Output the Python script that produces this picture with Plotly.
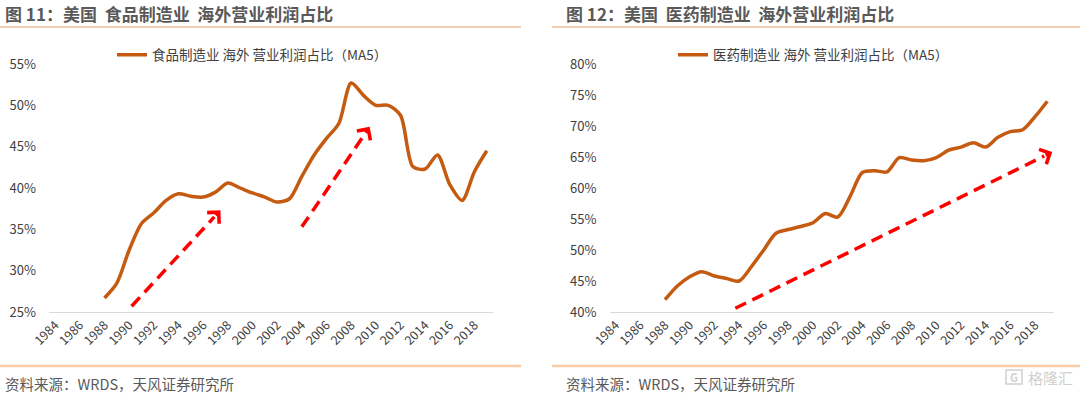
import math
import plotly.graph_objects as go

# ---------------- data ----------------
years = list(range(1988, 2020))
food_share = [26.7, 28.5, 32.5, 35.7, 37.0, 38.5, 39.3, 39.0, 38.9, 39.5,
              40.6, 40.0, 39.4, 38.9, 38.3, 38.7, 41.4, 44.0, 46.0, 47.8,
              52.7, 51.2, 50.0, 50.0, 48.8, 42.6, 42.3, 44.0, 40.4, 38.5,
              42.0, 44.5]
pharma_share = [42.0, 44.2, 45.7, 46.5, 45.8, 45.4, 45.0, 47.3, 50.0, 52.7,
                53.3, 53.8, 54.4, 55.9, 55.3, 58.6, 62.5, 62.8, 62.6, 64.9,
                64.5, 64.4, 64.9, 66.1, 66.6, 67.3, 66.6, 68.2, 69.1, 69.4,
                71.5, 74.0]
tick_years = list(range(1984, 2019, 2))
left_ticks = [25, 30, 35, 40, 45, 50, 55]
right_ticks = [40, 45, 50, 55, 60, 65, 70, 75, 80]

NB = "\u00a0\u00a0"
title_left = "图 11：美国" + NB + "食品制造业" + NB + "海外营业利润占比"
title_right = "图 12：美国" + NB + "医药制造业" + NB + "海外营业利润占比"
name_left = "食品制造业 海外 营业利润占比（MA5）"
name_right = "医药制造业 海外 营业利润占比（MA5）"
source_text = "资料来源：WRDS，天风证券研究所"

# trend arrows (tail -> tip) in data units (year, percent)
arrows_left = [((1990.2, 25.7), (1997.4, 37.3)),
               ((2004.0, 35.3), (2009.5, 47.4))]
arrows_right = [((1993.7, 40.6), (2019.4, 65.8))]

# ---------------- layout geometry ----------------
W, H = 1080, 396
FONT = "Noto Sans CJK SC"
LINE_COLOR = "#C55A11"
TXT = "#404040"
y_dom = [(H - 312) / H, (H - 64) / H]
x_dom_l = [49 / W, 493 / W]
x_dom_r = [609.5 / W, 1053.5 / W]
x_range = [1983.5, 2019.5]

fig = go.Figure()
fig.add_trace(go.Scatter(x=years, y=food_share, mode="lines", name=name_left,
                         line=dict(color=LINE_COLOR, width=3.5, shape="spline", smoothing=0.8),
                         xaxis="x", yaxis="y", legend="legend", hoverinfo="skip"))
fig.add_trace(go.Scatter(x=years, y=pharma_share, mode="lines", name=name_right,
                         line=dict(color=LINE_COLOR, width=3.5, shape="spline", smoothing=0.8),
                         xaxis="x2", yaxis="y2", legend="legend2", hoverinfo="skip"))

xa = dict(range=x_range, tickmode="array", tickvals=tick_years,
          ticktext=[str(t) for t in tick_years], tickangle=-45, automargin=False,
          showgrid=False, zeroline=False, showline=True, linecolor="#D9D9D9",
          linewidth=1, ticks="", tickfont=dict(family=FONT, size=12.5, color=TXT))
ya = dict(showgrid=False, zeroline=False, showline=False, ticks="", automargin=False,
          ticklabelstandoff=12, tickfont=dict(family=FONT, size=13, color=TXT))
fig.update_layout(
    xaxis=dict(domain=x_dom_l, anchor="y", **xa),
    xaxis2=dict(domain=x_dom_r, anchor="y2", **xa),
    yaxis=dict(domain=y_dom, anchor="x", range=[25, 55], tickmode="array",
               tickvals=left_ticks, ticktext=[f"{v}%" for v in left_ticks], **ya),
    yaxis2=dict(domain=y_dom, anchor="x2", range=[40, 80], tickmode="array",
                tickvals=right_ticks, ticktext=[f"{v}%" for v in right_ticks], **ya),
)

# arrows
def px_scale(xdom, yr):
    sx = (xdom[1] - xdom[0]) * W / (x_range[1] - x_range[0])
    sy = (y_dom[1] - y_dom[0]) * H / (yr[1] - yr[0])
    return sx, sy

shapes = []
annotations = []
for arrs, xr, yr_name, yr, xdom in [(arrows_left, "x", "y", [25, 55], x_dom_l),
                                     (arrows_right, "x2", "y2", [40, 80], x_dom_r)]:
    sx, sy = px_scale(xdom, yr)
    for (x0, y0), (x1, y1) in arrs:
        dxp, dyp = (x1 - x0) * sx, (y1 - y0) * sy
        L = math.hypot(dxp, dyp)
        f = 9.0 / L
        bx, by = x1 - (x1 - x0) * f, y1 - (y1 - y0) * f
        shapes.append(dict(type="line", xref=xr, yref=yr_name, x0=x0, y0=y0, x1=bx, y1=by,
                           line=dict(color="#FF0000", width=3.5, dash="12px,7px")))
        annotations.append(dict(x=x1, y=y1, xref=xr, yref=yr_name, ax=bx, ay=by,
                                axref=xr, ayref=yr_name, text="", showarrow=True,
                                arrowhead=4, arrowsize=0.9, arrowwidth=3.5,
                                arrowcolor="#FF0000"))

# decorative rules
shapes += [
    dict(type="line", xref="paper", yref="paper", x0=0, x1=521 / W, y0=1 - 27 / H, y1=1 - 27 / H,
         line=dict(color="#E39A62", width=1)),
    dict(type="line", xref="paper", yref="paper", x0=552 / W, x1=1, y0=1 - 27 / H, y1=1 - 27 / H,
         line=dict(color="#E39A62", width=1)),
    dict(type="line", xref="paper", yref="paper", x0=0, x1=521 / W, y0=1 - 366 / H, y1=1 - 366 / H,
         line=dict(color="#F8CBA4", width=2.5)),
    dict(type="line", xref="paper", yref="paper", x0=552 / W, x1=1, y0=1 - 366 / H, y1=1 - 366 / H,
         line=dict(color="#F8CBA4", width=2.5)),
]

for tx, xpos in [(title_left, 3), (title_right, 564)]:
    annotations.append(dict(text="<b>" + tx + "</b>", xref="paper", yref="paper",
                            x=xpos / W, y=1 - 13 / H, xanchor="left", yanchor="middle",
                            showarrow=False, font=dict(family=FONT, size=17, color="#595959")))
for xpos in [3, 564]:
    annotations.append(dict(text=source_text, xref="paper", yref="paper",
                            x=xpos / W, y=1 - 383 / H, xanchor="left", yanchor="middle",
                            showarrow=False, font=dict(family=FONT, size=14.5, color="#595959")))
# watermark
annotations.append(dict(text="格隆汇", xref="paper", yref="paper", x=1075 / W, y=1 - 377 / H,
                        xanchor="right", yanchor="middle", showarrow=False,
                        font=dict(family=FONT, size=15, color="#D0D0D0")))
annotations.append(dict(text="<b>G</b>", xref="paper", yref="paper", x=1014 / W, y=1 - 377 / H,
                        xanchor="center", yanchor="middle", showarrow=False,
                        font=dict(family=FONT, size=11, color="#D0D0D0")))
shapes.append(dict(type="rect", xref="paper", yref="paper", x0=1006 / W, x1=1022 / W,
                   y0=1 - 384 / H, y1=1 - 370 / H, line=dict(color="#D0D0D0", width=1.5)))

leg = dict(orientation="h", yanchor="middle", xanchor="left", bgcolor="rgba(0,0,0,0)",
           font=dict(family=FONT, size=13.5, color=TXT), itemwidth=30)
fig.update_layout(
    width=W, height=H, margin=dict(l=0, r=0, t=0, b=0, autoexpand=False),
    paper_bgcolor="white", plot_bgcolor="white",
    shapes=shapes, annotations=annotations, showlegend=True,
    legend=dict(x=112 / W, y=1 - 55 / H, **leg),
    legend2=dict(x=673 / W, y=1 - 55 / H, **leg),
)

fig.write_html("out.html", config={"displayModeBar": False},
               post_script="document.body.style.margin='0';document.body.style.overflow='hidden';")
